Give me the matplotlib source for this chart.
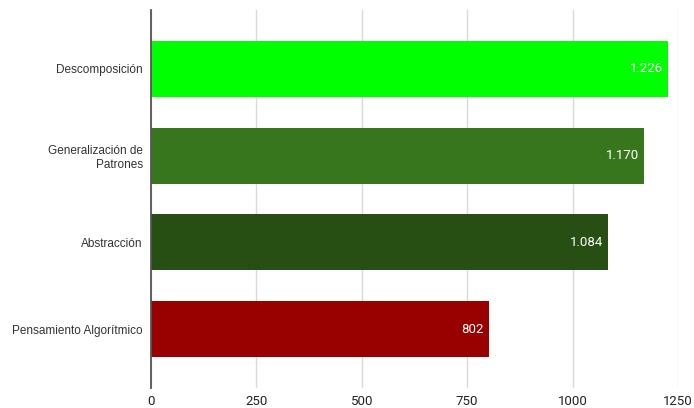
import matplotlib
matplotlib.use("Agg")
import matplotlib.pyplot as plt

categories = ["Descomposición", "Generalización de\nPatrones", "Abstracción", "Pensamiento Algorítmico"]
values = [1226, 1170, 1084, 802]
value_labels = ["1.226", "1.170", "1.084", "802"]
colors = ["#00ff00", "#38761d", "#274e13", "#990000"]
xticks = [0, 250, 500, 750, 1000, 1250]

fig = plt.figure(figsize=(6.94, 4.08), dpi=100)
ax = fig.add_axes([151/694, 1-388/408, (678-151)/694, (388-10)/408])

y = list(range(len(categories)))
bars = ax.barh(y, values, height=0.645, color=colors, zorder=3)
for b, lab in zip(bars, value_labels):
    ax.text(b.get_width() - 12, b.get_y() + b.get_height()/2, lab,
            ha="right", va="center", color="white", fontsize=9.5,
            family=["Roboto", "DejaVu Sans"], zorder=4)

ax.set_ylim(3.68, -0.68)
ax.set_xlim(0, 1250)
ax.set_xticks(xticks)
ax.set_xticklabels([str(t) for t in xticks], fontsize=9.5, color="#222222",
                   family=["Roboto", "DejaVu Sans"])
ax.set_yticks(y)
ax.set_yticklabels(categories, fontsize=8.5, color="#333333",
                   family=["Liberation Sans", "DejaVu Sans"])
ax.tick_params(axis="both", length=0)
ax.tick_params(axis="y", pad=6)
ax.tick_params(axis="x", pad=5)
ax.grid(axis="x", color="#d9d9d9", linewidth=1, zorder=0)
for s in ["top", "right", "bottom"]:
    ax.spines[s].set_visible(False)
ax.spines["left"].set_color("#555555")
ax.spines["left"].set_linewidth(1.3)
ax.spines["left"].set_zorder(5)
for lbl in ax.get_xticklabels():
    lbl.set_clip_on(False)

fig.savefig("out.png", dpi=100)
